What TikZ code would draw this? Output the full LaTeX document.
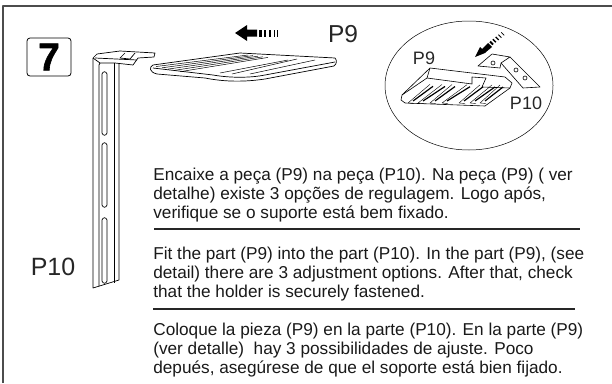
\documentclass[tikz,border=0pt]{standalone}
\usepackage{fontspec}
\setmainfont{Liberation Sans}
\newfontfamily\heavyfont[BoldFeatures={FakeBold=1.5}]{Liberation Sans}
\usetikzlibrary{shapes.geometric}
\begin{document}
\begin{tikzpicture}[x = 1pt, y = -1pt, line width = 0.7pt, line join = round,
                    caption/.style = {anchor = north west, inner sep = 0pt, align = left, font = \fontsize{17.2}{19}\selectfont, text = black!90},
                    partlabel/.style = {inner sep = 0pt, text = black!85},
                    rib/.style = {line width = 1.2pt},
                    textrule/.style = {line width = 1.2pt, black!85}
                    ]
    \useasboundingbox (0, 0) rectangle (612, 383);

    % frame, open at the bottom and on the right
    \draw[black!70, line width = 1.2pt] (3, 383) -- (3, 6) -- (612, 6);

    % step number
    \node[draw, rounded corners = 3pt, line width = 0.8pt, minimum width = 44pt, minimum height = 38pt, inner sep = 0pt,
          font = \fontsize{39}{39}\heavyfont\bfseries] (step7) at (49, 57) {7};

    % holder
    \draw (93, 58) -- (93, 288) -- (119, 280) -- (119, 63);
    \draw (93, 58) -- (97, 54) -- (120, 51) -- (155, 53) -- (154, 57) -- (138, 58) -- (133, 65) -- (115, 63) -- (100, 63) -- (93, 58);
    \draw (100, 63) -- (99, 65) -- (99, 286);
    \draw (95, 58) -- (137, 60);
    \draw (125, 53) -- (120, 58) -- (130, 59) -- (135, 53);
    \draw (114, 63) -- (114, 283);
    \foreach \ya/\yb in {72/135, 143/207, 218/283}
        \draw (102, \ya + 2) .. controls (103, \ya - 1) and (106, \ya - 1) .. (107, \ya + 2) -- (107, \yb - 2)
              .. controls (106, \yb + 1) and (103, \yb + 1) .. (102, \yb - 2) -- cycle;

    % shelf
    \draw (153, 65) .. controls (149, 67) and (149, 72) .. (157, 74) -- (205, 78) .. controls (225, 82) and (245, 82) .. (265, 79)
          -- (334, 66) .. controls (337, 64) and (337, 60) .. (335, 58) -- (240, 53) -- (153, 65);
    \draw (153, 68) -- (213, 75) .. controls (230, 78) and (250, 78) .. (265, 75) -- (335, 62);
    \foreach \i in {0, ..., 4}
        \draw[line width = 0.5pt] (156 + 6 * \i, 66.5 + 1.3 * \i) -- (248 + 5 * \i, 55 + 0.6 * \i);
    \draw[line width = 0.5pt] (220, 73) -- (288, 60);
    \draw[line width = 0.5pt] (232, 74) -- (297, 59);
    \draw[line width = 0.5pt] (250, 74) -- (315, 60);

    % direction arrow of the shelf
    \coordinate (shelftip) at (235, 33);
    \fill (shelftip) -- (247, 25) -- (247, 29.5) -- (257, 29.5) -- (257, 36.5) -- (247, 36.5) -- (247, 41) -- cycle;
    \foreach \x/\w in {259/2.6, 264/2.2, 269/1.6, 273.5/1.2, 277/0.8}
        \fill (\x, 29.5) rectangle (\x + \w, 36.5);
    \node[partlabel, font = \fontsize{24.5}{24.5}\selectfont] (labelshelf) at (343, 34) {P9};

    % detail
    \node[draw, ellipse, minimum width = 168pt, minimum height = 129pt, inner sep = 0pt, line width = 0.5pt] (detail) at (469, 85.5) {};
    \begin{scope}[line width = 0.6pt]
        % shelf underside
        \draw (430, 68) -- (505, 77) -- (512, 83) -- (510, 88) -- (485, 106) -- (405, 103) -- (401, 100) -- (402, 95) -- (430, 68);
        \draw (430, 68) -- (427, 78) -- (472, 84) -- (472, 77) -- (486, 78) -- (482, 87) -- (510, 88);
        \draw (427, 78) -- (402, 95);
        \foreach \xa/\xb in {433/413, 445/423, 455/435, 470/447, 483/464, 495/475, 503/485} {
            \draw[rib] (\xa, 82 + \xa / 100) -- (\xb, 101);
            \draw[line width = 0.4pt] (\xa - 3, 80 + \xa / 100) -- (\xb - 5, 103) -- (\xb + 1, 103.5);
        }
        % holder top
        \draw (492, 54) -- (478, 66) -- (500, 68) -- (501, 63) -- (510, 57) -- (492, 54);
        \draw (510, 57) -- (540, 87) -- (523, 88) -- (501, 63);
        \draw (493, 63) circle (2pt);
        \draw (516, 70) circle (2pt);
        \draw (525, 78) circle (2pt);
    \end{scope}

    % direction arrow of the detail
    \fill (475, 57) -- (480, 47) -- (482, 49) -- (488, 43) -- (492, 47) -- (486, 52) -- (485, 53) -- cycle;
    \foreach \i/\w in {0/1.8, 1/1.5, 2/1.2, 3/0.9, 4/0.6}
        \draw[line width = \w pt] (490 + 2.8 * \i, 41.5 - 2.3 * \i) -- ++ (3, 3);

    \node[partlabel, font = \fontsize{18}{18}\selectfont] (labeldetailshelf) at (424, 58) {P9};
    \node[partlabel, font = \fontsize{18}{18}\selectfont] (labeldetailholder) at (526, 103) {P10};
    \node[partlabel, font = \fontsize{25}{25}\selectfont] (labelholder) at (53, 267) {P10};

    % texts
    \node[caption] (textpt) at (153, 167.5) {Encaixe a peça (P9) na peça (P10). Na peça (P9) ( ver\\detalhe) existe 3 opções de regulagem. Logo após,\\verifique se o suporte está bem fixado.};
    \coordinate (rulea) at (154, 229);
    \draw[textrule] (rulea) -- ++ (426, 0);
    \node[caption] (texten) at (153, 246.5) {Fit the part (P9) into the part (P10). In the part (P9), (see\\detail) there are 3 adjustment options. After that, check\\that the holder is securely fastened.};
    \coordinate (ruleb) at (153, 309);
    \draw[textrule] (ruleb) -- ++ (422, 0);
    \node[caption] (textes) at (153, 323) {Coloque la pieza (P9) en la parte (P10). En la parte (P9)\\(ver detalle)\ \ hay 3 possibilidades de ajuste. Poco\\depués, asegúrese de que el soporte está bien fijado.};
\end{tikzpicture}
\end{document}
